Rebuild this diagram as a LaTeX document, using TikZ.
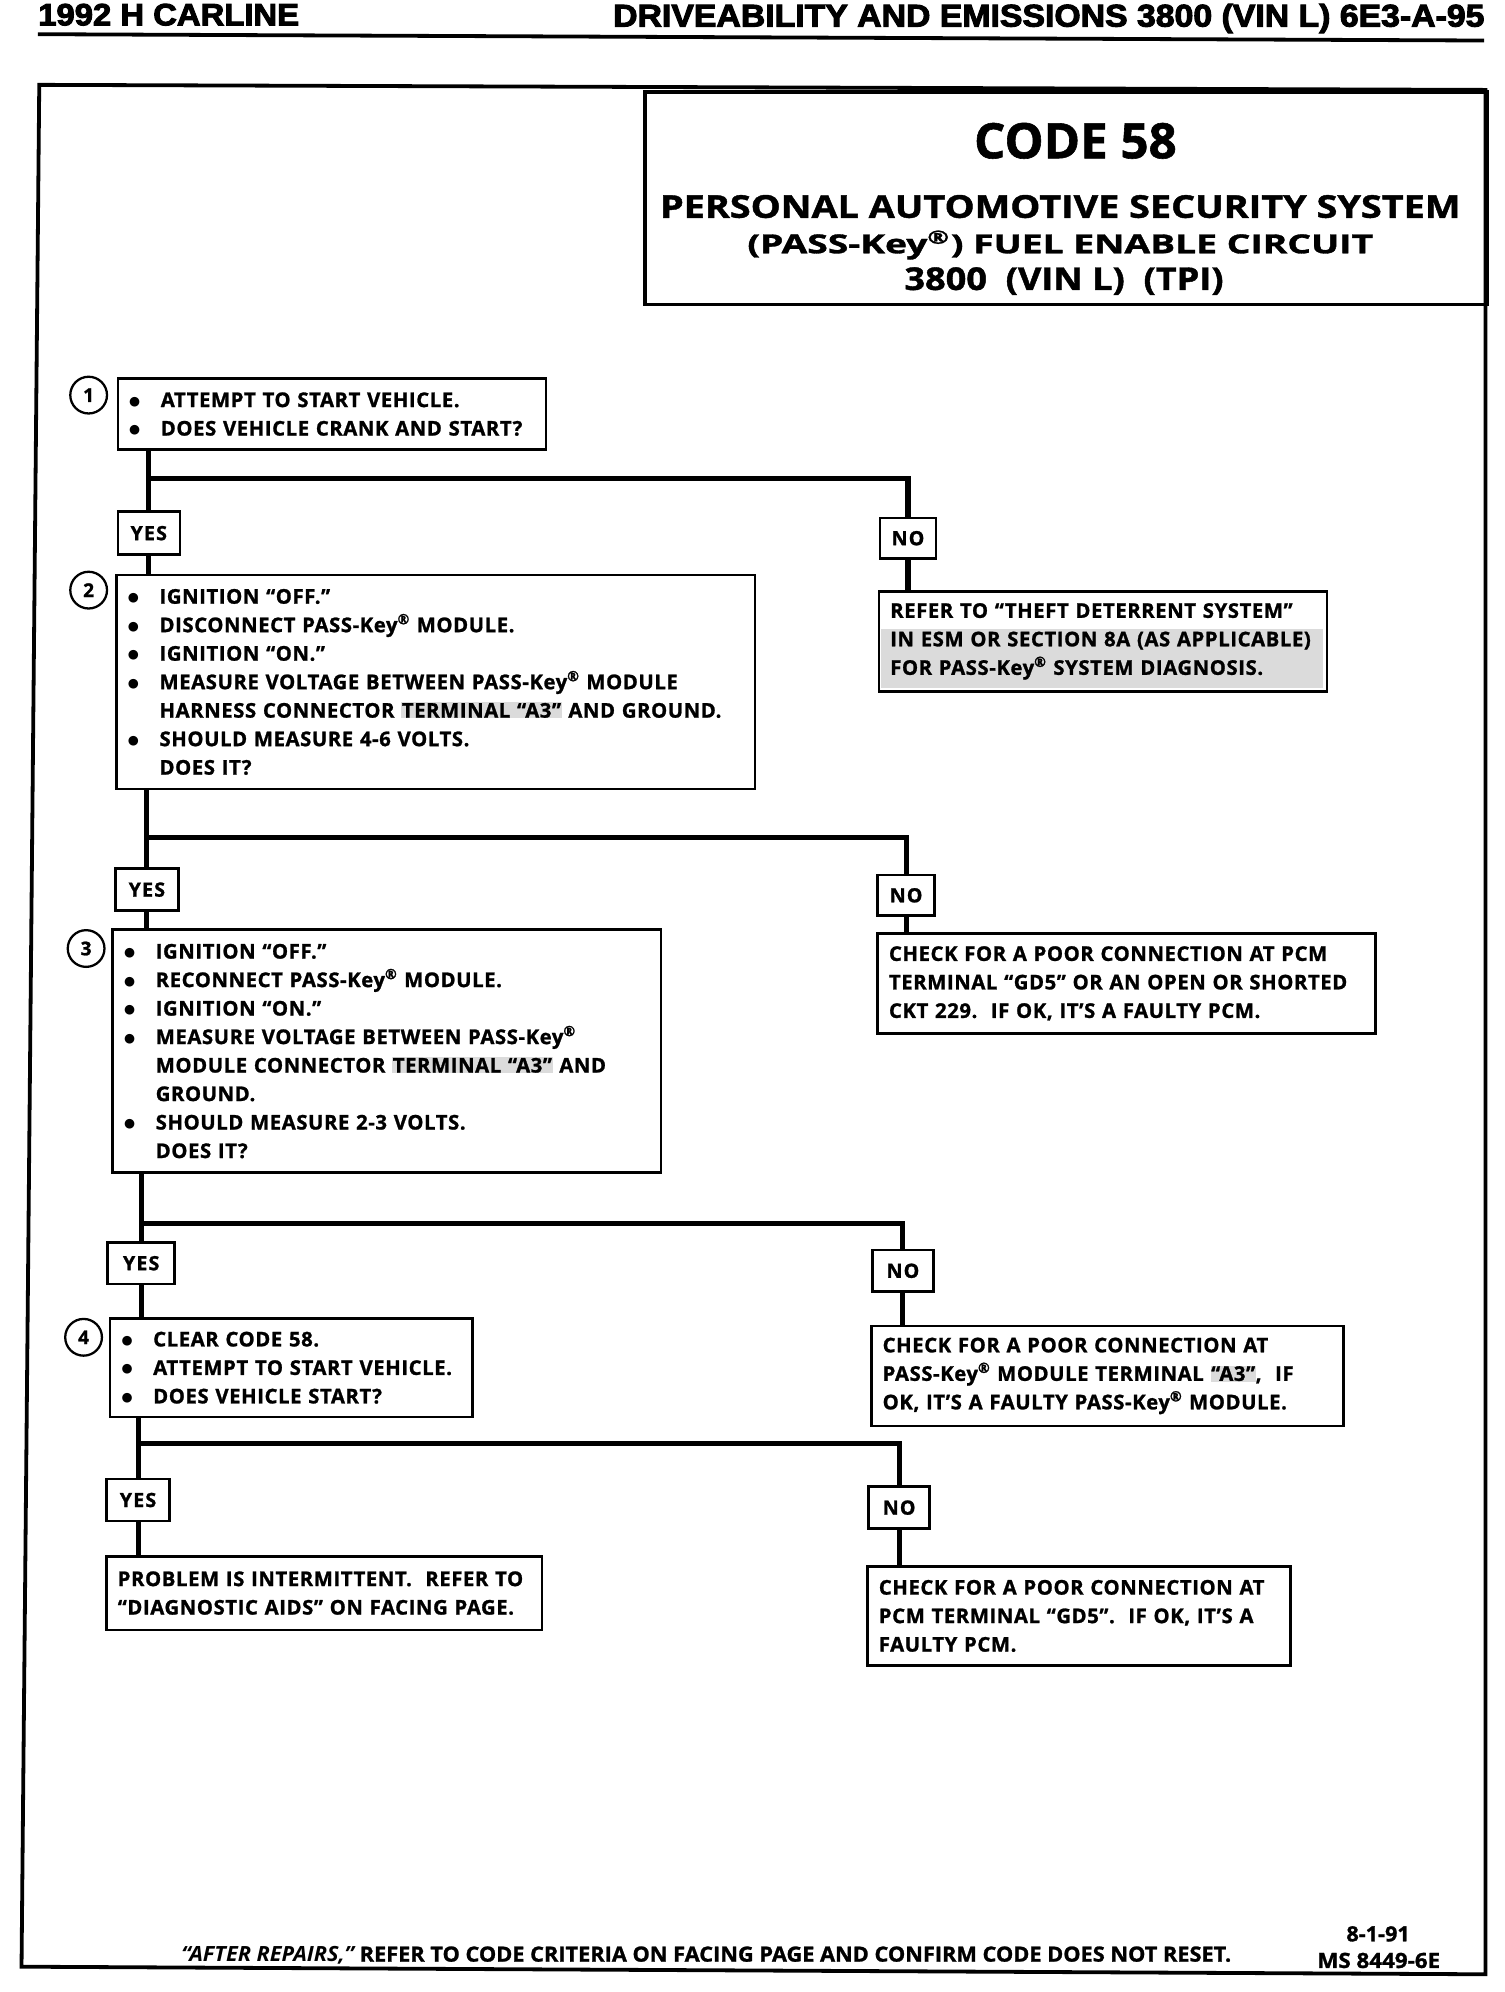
\documentclass[tikz,border=0pt]{standalone}
\usepackage{fontspec}
\usepackage{graphicx}
\setmainfont{Open Sans}[BoldFeatures={FakeBold=1.2}]
\newfontfamily\hdrfont{Liberation Sans}[BoldFeatures={FakeBold=3}]
\newfontfamily\dotfont{DejaVu Sans}
\definecolor{shadegray}{gray}{0.86}
\newcommand\boxfont{\fontsize{16}{22.5}\selectfont\bfseries\addfontfeature{LetterSpace=3}}
\newcommand\ynfont{\fontsize{15.5}{16}\selectfont\bfseries\addfontfeature{LetterSpace=6}}
\newcommand\numfont{\fontsize{15}{16}\selectfont\bfseries}
\newcommand\bl{\makebox[25pt][l]{\raisebox{1.6pt}{\dotfont\fontsize{10}{10}\selectfont ●}}}
\newcommand\ind{\hspace*{25pt}}
\newcommand\reg{\textsuperscript{®}}
\newcommand\shd[1]{{\setlength{\fboxsep}{0.5pt}\colorbox{shadegray}{#1}}}
\tikzset{
  conn/.style={line width=4pt},
  stepbox/.style={draw, line width=2pt, fill=white, anchor=north west, inner xsep=9pt, inner ysep=0pt, align=left, font=\boxfont},
  yn/.style={draw, line width=2pt, fill=white, anchor=north west, inner sep=0pt, font=\ynfont},
  num/.style={draw, circle, line width=1.8pt, minimum size=29pt, inner sep=0pt, font=\numfont},
  txt/.style={anchor=base west, inner sep=0pt},
}
\begin{document}
\begin{tikzpicture}[x=1pt,y=-1pt]
\useasboundingbox (0,0) rectangle (1188,1573);
\fill[white] (0,0) rectangle (1188,1573);

% header
\node[txt] (hl) at (30,20) {\resizebox{206pt}{17pt}{\hdrfont\bfseries 1992 H CARLINE}};
\node[txt] (hr) at (484,21) {\resizebox{688pt}{18pt}{\hdrfont\bfseries DRIVEABILITY AND EMISSIONS 3800 (VIN L) 6E3-A-95}};
\draw[line width=3pt] (30,27) -- (1172,32);

% frame
\draw[line width=3pt] (31,67) -- (1173,71) -- (1173,1559) -- (17,1553) -- cycle;

% title box
\node[draw, line width=3pt, anchor=north west, minimum width=665pt, minimum height=168pt, inner sep=0pt] (title) at (508,71) {};
\node[txt] (t1) at (769,125) {\resizebox{160pt}{28pt}{\bfseries CODE 58}};
\node[txt] (t2) at (521,172) {\resizebox{632pt}{18pt}{\bfseries PERSONAL AUTOMOTIVE SECURITY SYSTEM}};
\node[txt] (t3) at (590,200) {\resizebox{494pt}{18pt}{\bfseries (PASS-Key\textsuperscript{\scriptsize ®}) FUEL ENABLE CIRCUIT}};
\node[txt] (t4) at (714,229) {\resizebox{252pt}{18pt}{\bfseries 3800~ (VIN L)~ (TPI)}};

% step 1
\node[num] (n1) at (70,312) {1};
\node[stepbox, text width=320pt, minimum height=56pt] (box1) at (92,298)
  {\bl ATTEMPT TO START VEHICLE.\\
   \bl DOES VEHICLE CRANK AND START?};
\node[yn, minimum width=49pt, minimum height=34pt] (yes1) at (92,403) {YES};
\node[yn, minimum width=44pt, minimum height=32pt] (no1) at (694,408) {NO};
\fill[shadegray] (696,497) rectangle (1045,543);
\node[stepbox, fill=none, text width=336pt, minimum height=79pt] (refer) at (693,466)
  {REFER TO “THEFT DETERRENT SYSTEM”\\
   IN ESM OR SECTION 8A (AS APPLICABLE)\\
   FOR PASS-Key\reg{} SYSTEM DIAGNOSIS.};

% step 2
\node[num] (n2) at (70,466) {2};
\node[stepbox, text width=486pt, minimum height=169pt] (box2) at (91,453)
  {\bl IGNITION “OFF.”\\
   \bl DISCONNECT PASS-Key\reg{} MODULE.\\
   \bl IGNITION “ON.”\\
   \bl MEASURE VOLTAGE BETWEEN PASS-Key\reg{} MODULE\\
   \ind HARNESS CONNECTOR \shd{TERMINAL “A3”} AND GROUND.\\
   \bl SHOULD MEASURE 4-6 VOLTS.\\
   \ind DOES IT?};
\node[yn, minimum width=50pt, minimum height=33pt] (yes2) at (90,685) {YES};
\node[yn, minimum width=45pt, minimum height=32pt] (no2) at (692,690) {NO};
\node[stepbox, text width=375pt, minimum height=79pt] (check1) at (692,736)
  {CHECK FOR A POOR CONNECTION AT PCM\\
   TERMINAL “GD5” OR AN OPEN OR SHORTED\\
   CKT 229.\ \ IF OK, IT’S A FAULTY PCM.};

% step 3
\node[num] (n3) at (68,749) {3};
\node[stepbox, text width=415pt, minimum height=192pt] (box3) at (88,733)
  {\bl IGNITION “OFF.”\\
   \bl RECONNECT PASS-Key\reg{} MODULE.\\
   \bl IGNITION “ON.”\\
   \bl MEASURE VOLTAGE BETWEEN PASS-Key\reg\\
   \ind MODULE CONNECTOR \shd{TERMINAL “A3”} AND\\
   \ind GROUND.\\
   \bl SHOULD MEASURE 2-3 VOLTS.\\
   \ind DOES IT?};
\node[yn, minimum width=53pt, minimum height=33pt] (yes3) at (84,980) {YES};
\node[yn, minimum width=48pt, minimum height=33pt] (no3) at (688,986) {NO};
\node[stepbox, text width=355pt, minimum height=79pt] (check2) at (687,1046)
  {CHECK FOR A POOR CONNECTION AT\\
   PASS-Key\reg{} MODULE TERMINAL \shd{“A3”},\ \ IF\\
   OK, IT’S A FAULTY PASS-Key\reg{} MODULE.};

% step 4
\node[num] (n4) at (66,1056) {4};
\node[stepbox, text width=268pt, minimum height=78pt] (box4) at (86,1040)
  {\bl CLEAR CODE 58.\\
   \bl ATTEMPT TO START VEHICLE.\\
   \bl DOES VEHICLE START?};
\node[yn, minimum width=50pt, minimum height=33pt] (yes4) at (83,1167) {YES};
\node[yn, minimum width=48pt, minimum height=33pt] (no4) at (685,1173) {NO};
\node[stepbox, text width=326pt, minimum height=58pt] (prob) at (83,1228)
  {PROBLEM IS INTERMITTENT.\ \ REFER TO\\
   “DIAGNOSTIC AIDS” ON FACING PAGE.};
\node[stepbox, text width=316pt, minimum height=78pt] (check3) at (684,1236)
  {CHECK FOR A POOR CONNECTION AT\\
   PCM TERMINAL “GD5”.\ \ IF OK, IT’S A\\
   FAULTY PCM.};

% connectors
\coordinate (j1) at (yes1.north |- 0,378);
\coordinate (j2) at (yes2.north |- 0,661);
\coordinate (j3) at (yes3.north |- 0,966);
\coordinate (j4) at (yes4.north |- 0,1140);
\draw[conn] (box1.south -| yes1.north) -- (yes1.north);
\draw[conn] (j1) -| (no1.north);
\draw[conn] (yes1.south) -- (box2.north -| yes1.south);
\draw[conn] (no1.south) -- (refer.north -| no1.south);

\draw[conn] (box2.south -| yes2.north) -- (yes2.north);
\draw[conn] (j2) -| (no2.north);
\draw[conn] (yes2.south) -- (box3.north -| yes2.south);
\draw[conn] (no2.south) -- (check1.north -| no2.south);

\draw[conn] (box3.south -| yes3.north) -- (yes3.north);
\draw[conn] (j3) -| (no3.north);
\draw[conn] (yes3.south) -- (box4.north -| yes3.south);
\draw[conn] (no3.south) -- (check2.north -| no3.south);

\draw[conn] (box4.south -| yes4.north) -- (yes4.north);
\draw[conn] (j4) -| (no4.north);
\draw[conn] (yes4.south) -- (prob.north -| yes4.south);
\draw[conn] (no4.south) -- (check3.north -| no4.south);

% footer
\node[txt] (foot) at (143,1549) {\resizebox{829pt}{12pt}{\bfseries\itshape “AFTER REPAIRS,”\upshape\ REFER TO CODE CRITERIA ON FACING PAGE AND CONFIRM CODE DOES NOT RESET.}};
\node[txt] (date) at (1063,1533) {\resizebox{50pt}{12pt}{\bfseries 8-1-91}};
\node[txt] (ms) at (1040,1554) {\resizebox{97pt}{12pt}{\bfseries MS 8449-6E}};
\end{tikzpicture}
\end{document}
